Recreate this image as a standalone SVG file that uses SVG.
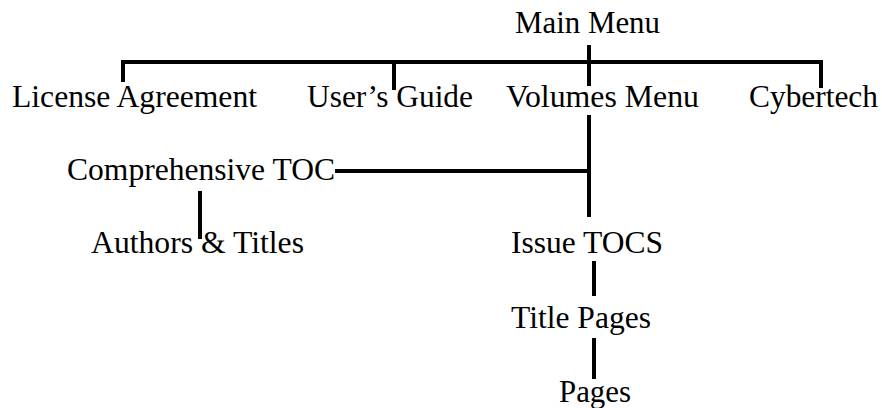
<svg xmlns="http://www.w3.org/2000/svg" width="882" height="408" viewBox="0 0 882 408">
<style>
text{font-family:"Liberation Serif","Times New Roman",serif;font-size:31px;fill:#000}
.c{stroke:#000;stroke-width:4;fill:none;stroke-linecap:butt}
</style>
<rect width="882" height="408" fill="#fff"/>
<g id="connectors">
<path class="c" d="M121 62H823"/>
<path class="c" d="M123 60V82"/>
<path class="c" d="M394 60V90"/>
<path class="c" d="M589 45V86"/>
<path class="c" d="M821 60V88"/>
<path class="c" d="M589 115V217"/>
<path class="c" d="M335 171H591"/>
<path class="c" d="M200 191V239"/>
<path class="c" d="M594 261V296"/>
<path class="c" d="M594 338V379"/>
</g>
<g id="main-menu"><text x="515" y="33" textLength="145" lengthAdjust="spacingAndGlyphs">Main Menu</text></g>
<g id="license-agreement"><text x="12" y="107" textLength="245" lengthAdjust="spacingAndGlyphs">License Agreement</text></g>
<g id="users-guide"><text x="307" y="107" textLength="166" lengthAdjust="spacingAndGlyphs">User’s Guide</text></g>
<g id="volumes-menu"><text x="506" y="107" textLength="193" lengthAdjust="spacingAndGlyphs">Volumes Menu</text></g>
<g id="cybertech"><text x="749" y="107" textLength="129" lengthAdjust="spacingAndGlyphs">Cybertech</text></g>
<g id="comprehensive-toc"><text x="67" y="180" textLength="268" lengthAdjust="spacingAndGlyphs">Comprehensive TOC</text></g>
<g id="authors-titles"><text x="91" y="253" textLength="213" lengthAdjust="spacingAndGlyphs">Authors &amp; Titles</text></g>
<g id="issue-tocs"><text x="511" y="253" textLength="152" lengthAdjust="spacingAndGlyphs">Issue TOCS</text></g>
<g id="title-pages"><text x="511" y="328" textLength="140" lengthAdjust="spacingAndGlyphs">Title Pages</text></g>
<g id="pages"><text x="559" y="402" textLength="72" lengthAdjust="spacingAndGlyphs">Pages</text></g>
</svg>
